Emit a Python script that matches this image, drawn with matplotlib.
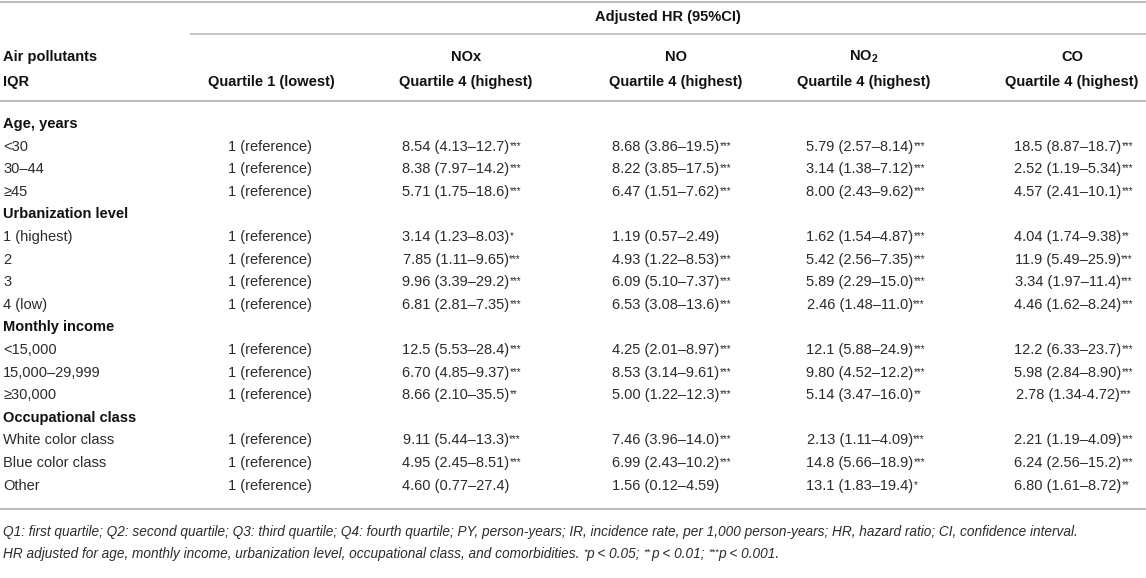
import matplotlib
matplotlib.use("Agg")
import matplotlib.pyplot as plt

plt.rcParams['font.family'] = ['Liberation Sans', 'DejaVu Sans']
plt.rcParams['mathtext.fontset'] = 'custom'
plt.rcParams['mathtext.rm'] = 'Liberation Sans'
plt.rcParams['mathtext.it'] = 'Liberation Sans:italic'
plt.rcParams['mathtext.bf'] = 'Liberation Sans:bold'

# --- данные таблицы ---
spanner = "Adjusted HR (95%CI)"
head_top = ["Air pollutants", "", "NOx", "NO", r"NO$_\mathbf{2}$", "CO"]
head_bottom = ["IQR", "Quartile 1 (lowest)", "Quartile 4 (highest)",
               "Quartile 4 (highest)", "Quartile 4 (highest)", "Quartile 4 (highest)"]

groups = ["Age, years", "Urbanization level", "Monthly income", "Occupational class"]
subgroups = [
    ["<30", "30–44", "≥45"],
    ["1 (highest)", "2", "3", "4 (low)"],
    ["<15,000", "15,000–29,999", "≥30,000"],
    ["White color class", "Blue color class", "Other"],
]
reference = "1 (reference)"

nox = ["8.54 (4.13–12.7)", "8.38 (7.97–14.2)", "5.71 (1.75–18.6)",
       "3.14 (1.23–8.03)", "7.85 (1.11–9.65)", "9.96 (3.39–29.2)", "6.81 (2.81–7.35)",
       "12.5 (5.53–28.4)", "6.70 (4.85–9.37)", "8.66 (2.10–35.5)",
       "9.11 (5.44–13.3)", "4.95 (2.45–8.51)", "4.60 (0.77–27.4)"]
nox_sig = ["***", "***", "***", "*", "***", "***", "***", "***", "***", "**", "***", "***", ""]

no = ["8.68 (3.86–19.5)", "8.22 (3.85–17.5)", "6.47 (1.51–7.62)",
      "1.19 (0.57–2.49)", "4.93 (1.22–8.53)", "6.09 (5.10–7.37)", "6.53 (3.08–13.6)",
      "4.25 (2.01–8.97)", "8.53 (3.14–9.61)", "5.00 (1.22–12.3)",
      "7.46 (3.96–14.0)", "6.99 (2.43–10.2)", "1.56 (0.12–4.59)"]
no_sig = ["***", "***", "***", "", "***", "***", "***", "***", "***", "***", "***", "***", ""]

no2 = ["5.79 (2.57–8.14)", "3.14 (1.38–7.12)", "8.00 (2.43–9.62)",
       "1.62 (1.54–4.87)", "5.42 (2.56–7.35)", "5.89 (2.29–15.0)", "2.46 (1.48–11.0)",
       "12.1 (5.88–24.9)", "9.80 (4.52–12.2)", "5.14 (3.47–16.0)",
       "2.13 (1.11–4.09)", "14.8 (5.66–18.9)", "13.1 (1.83–19.4)"]
no2_sig = ["***", "***", "***", "***", "***", "***", "***", "***", "***", "**", "***", "***", "*"]

co = ["18.5 (8.87–18.7)", "2.52 (1.19–5.34)", "4.57 (2.41–10.1)",
      "4.04 (1.74–9.38)", "11.9 (5.49–25.9)", "3.34 (1.97–11.4)", "4.46 (1.62–8.24)",
      "12.2 (6.33–23.7)", "5.98 (2.84–8.90)", "2.78 (1.34-4.72)",
      "2.21 (1.19–4.09)", "6.24 (2.56–15.2)", "6.80 (1.61–8.72)"]
co_sig = ["***", "***", "***", "**", "***", "***", "***", "***", "***", "***", "***", "***", "**"]

footnote1 = ("Q1: first quartile; Q2: second quartile; Q3: third quartile; Q4: fourth quartile; "
             "PY, person-years; IR, incidence rate, per 1,000 person-years; HR, hazard ratio; "
             "CI, confidence interval.")
footnote2 = ["HR adjusted for age, monthly income, urbanization level, occupational class, "
             "and comorbidities. ", "*", "p < 0.05; ", "**", "p < 0.01; ", "***", "p < 0.001."]

# --- разметка (пиксели) ---
W, H = 1146, 578
x_left = 3
head_x = [x_left, 271, 466, 676, 864, 1072]
data_x = [x_left, 270, 456, 666, 860, 1068]
row0, row_step = 124, 22.6
txt = '#2b2b2b'
rule = '#b4b4b4'
fs = 10.5
fs_sig = 7

fig = plt.figure(figsize=(W / 100, H / 100), dpi=100)
ax = fig.add_axes([0, 0, 1, 1])
ax.set_xlim(0, W)
ax.set_ylim(H, 0)
ax.axis('off')

# линии
ax.hlines([2, 101, 509], 0, W, color=rule, lw=1.3)
ax.hlines(34, 190, W, color=rule, lw=1.1)

# шапка
ax.text((190 + W) / 2, 17, spanner, ha='center', va='center', fontsize=fs,
        fontweight='bold', color='#111')
for j, (a, b) in enumerate(zip(head_top, head_bottom)):
    ha = 'left' if j == 0 else 'center'
    ax.text(head_x[j], 57, a, ha=ha, va='center', fontsize=fs, fontweight='bold', color='#111')
    ax.text(head_x[j], 82, b, ha=ha, va='center', fontsize=fs, fontweight='bold', color='#111')


def cell(x, y, value, sig):
    t = ax.text(x, y, value, ha='center', va='center', fontsize=fs, color=txt)
    if sig:
        ax.annotate(sig, xy=(1, 0.92), xycoords=t, ha='left', va='top',
                    fontsize=fs_sig, color=txt)


columns = [(nox, nox_sig), (no, no_sig), (no2, no2_sig), (co, co_sig)]
i = 0
k = 0
for g, subs in zip(groups, subgroups):
    ax.text(x_left, row0 + row_step * i, g, ha='left', va='center',
            fontsize=fs, fontweight='bold', color='#111')
    i += 1
    for s in subs:
        y = row0 + row_step * i
        ax.text(x_left, y, s, ha='left', va='center', fontsize=fs, color=txt)
        ax.text(data_x[1], y, reference, ha='center', va='center', fontsize=fs, color=txt)
        for c, (vals, sigs) in enumerate(columns):
            cell(data_x[c + 2], y, vals[k], sigs[k])
        i += 1
        k += 1

# примечания
fn_fs = 9.8
ax.text(x_left, 532, footnote1, ha='left', va='center', fontsize=fn_fs,
        style='italic', color=txt)
base = ax.text(x_left, 554, footnote2[0], ha='left', va='center', fontsize=fn_fs,
               style='italic', color=txt)
prev = base
for n, piece in enumerate(footnote2[1:], start=1):
    if n % 2 == 1:
        prev = ax.annotate(piece, xy=(1, 0.95), xycoords=(prev, base), ha='left', va='top',
                           fontsize=6.5, style='italic', color=txt)
    else:
        prev = ax.annotate(piece, xy=(1, 0), xycoords=(prev, base), ha='left', va='bottom',
                           fontsize=fn_fs, style='italic', color=txt)

fig.savefig('out.png', dpi=100)
